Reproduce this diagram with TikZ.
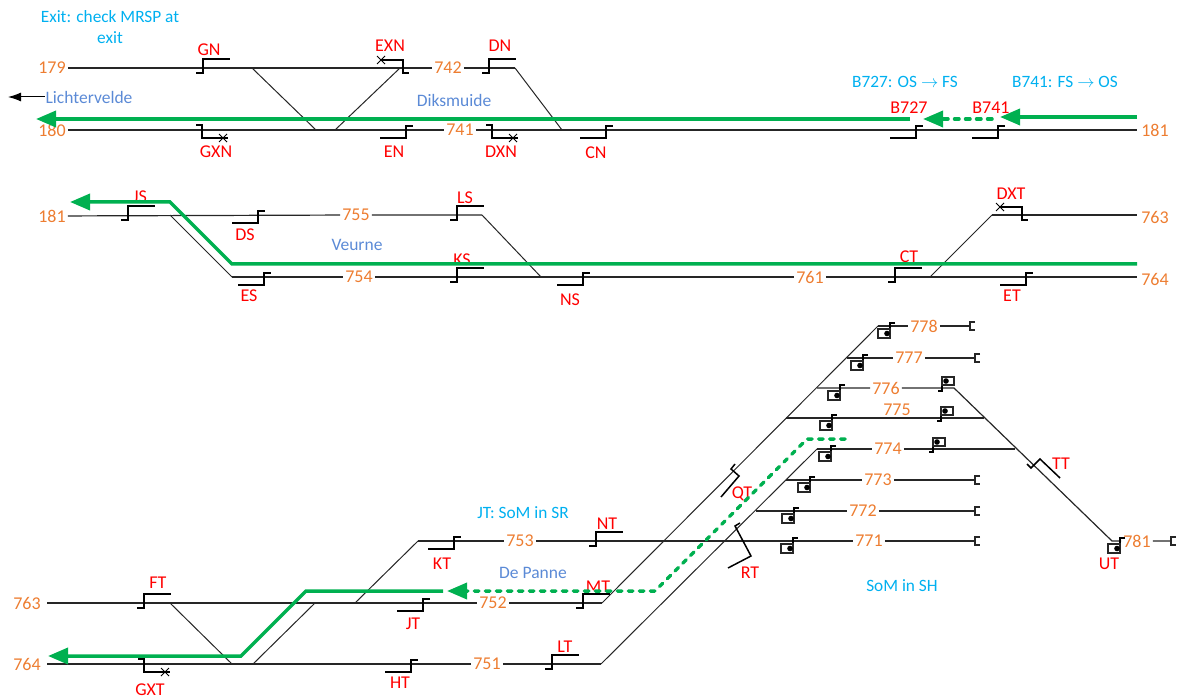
\documentclass[tikz,border=0pt]{standalone}
\usepackage{fontspec}
\setmainfont{Carlito}
\usetikzlibrary{arrows.meta}
\definecolor{routegreen}{HTML}{00B050}
\definecolor{signalred}{HTML}{FF0000}
\definecolor{trackorange}{HTML}{ED7D31}
\definecolor{placeblue}{HTML}{5B8AD6}
\definecolor{noteblue}{HTML}{00B0F0}
\tikzset{
  track/.style={line width=1.2pt,color=black!85},
  sigline/.style={line width=1.5pt,color=black},
  boxline/.style={line width=1.3pt,color=black!85},
  crossline/.style={line width=0.9pt,color=black},
  routearr/.style={-{Triangle[length=20pt,width=16pt]},line width=3.5pt,color=routegreen},
  routedots/.style={routearr,line cap=round,dash pattern=on 4.5pt off 6.5pt},
  siglabel/.style={font=\fontsize{18}{20}\selectfont,text=signalred,inner sep=0pt},
  tracklabel/.style={font=\fontsize{18}{20}\selectfont,text=trackorange,inner sep=2pt},
  placelabel/.style={font=\fontsize{17.5}{20}\selectfont,text=placeblue,inner sep=0.5pt},
  notelabel/.style={font=\fontsize{17.3}{21.5}\selectfont,text=noteblue,inner sep=0pt,align=center},
  % signal shapes, anchored on the track below the mast
  sigtop/.pic={\draw[sigline] (-7,5) -- (0,5) -- (0,-9) -- (27,-9);},
  siglow/.pic={\draw[sigline] (-26,8) -- (0,8) -- (0,-4) -- (7,-4);},
  sigexit/.pic={
    \draw[sigline] (-6,-5) -- (0,-5) -- (0,8) -- (26,8);
    \draw[crossline] (17,4) -- (25,12) (17,12) -- (25,4);
  },
  sigexitup/.pic={
    \draw[sigline] (-22,-8) -- (0,-8) -- (0,5) -- (6,5);
    \draw[crossline] (-26,-12) -- (-18,-4) (-26,-4) -- (-18,-12);
  },
  sigbox/.pic={
    \draw[sigline,line width=1.2pt] (5,-3) -- (0,-3) -- (0,12);
    \draw[boxline] (-12,3) rectangle (0,12);
    \fill (-3,7.5) circle (2.8);
  },
  sigboxup/.pic={
    \draw[sigline,line width=1.2pt] (-4,3) -- (0,3) -- (0,-11);
    \draw[boxline] (0,-11) rectangle (12,-3);
    \fill (4,-7) circle (2.8);
  },
  bufstop/.pic={\draw[boxline] (5,-4) -- (0,-4) -- (0,4) -- (5,4);}
}
\begin{document}
\begin{tikzpicture}[x=1pt,y=-1pt]
  \useasboundingbox (0,0) rectangle (1182,700);

  % signal names
  \foreach \lbl/\xpos/\ypos in {GN/209/50,EXN/390/46,DN/500/46,GXN/216/152,EN/394/152,DXN/501/152,
      CN/596/153,B727/909/108,B741/991/108,JS/140/197,DS/245/235,LS/465/198,KS/462/260,ES/249/296,
      NS/570/300,CT/909/257,DXT/1011/194,ET/1012/296,FT/158/583,GXT/150/690,HT/400/683,JT/413/624,
      KT/442/564,NT/607/524,MT/598/587,LT/565/647,QT/742/494,RT/750/573,TT/1061/464,UT/1109/564}
    \node[siglabel] (\lbl) at (\xpos,\ypos) {\lbl};

  % track numbers
  \foreach \nme/\xpos/\ypos/\txt in {a179/52/68/179,a742/448/68/742,a180/52/130/180,a741/460/130/741,
      b181/1155/130/181,c181/52/216/181,a755/356/215/755,a754/359/277/754,a761/810/277/761,
      b763/1155/217/763,b764/1155/279/764,c763/27/603/763,c764/27/664/764,a753/520/541/753,
      a752/493/603/752,a751/487/664/751,a778/924/326/778,a777/909/358/777,a776/886/388/776,
      a775/897/410/775,a774/888/449/774,a773/878/480/773,a772/863/511/772,a771/869/541/771,
      a781/1137/541/781}
    \node[tracklabel] (\nme) at (\xpos,\ypos) {\txt};

  \node[placelabel] (lichtervelde) at (89,97) {Lichtervelde};
  \node[placelabel] (diksmuide) at (454,100) {Diksmuide};
  \node[placelabel] (veurne) at (357,245) {Veurne};
  \node[placelabel] (depanne) at (533,573) {De Panne};
  \node[notelabel] (noteexit) at (110,27) {Exit: check MRSP at\\exit};
  \node[notelabel] (noteb727) at (905,82) {B727: OS $\rightarrow$ FS};
  \node[notelabel] (noteb741) at (1065,82) {B741: FS $\rightarrow$ OS};
  \node[notelabel] (notejt) at (523,513) {JT: SoM in SR};
  \node[notelabel] (notesh) at (902,586) {SoM in SH};

  % junction points
  \coordinate (j515) at (515,68);
  \coordinate (j482) at (482,215);
  \coordinate (j170) at (170,215);
  \coordinate (j232) at (232,277);
  \coordinate (j992) at (992,215);
  \coordinate (j930) at (930,277);
  \coordinate (j541) at (541,277);
  \coordinate (j418) at (418,541);
  \coordinate (j355) at (355,603);
  \coordinate (j602) at (602,603);
  \coordinate (j601) at (601,664);
  \coordinate (j878) at (878,326);
  \coordinate (j817) at (817,449);
  \coordinate (j954) at (954,388);
  \coordinate (j1112) at (1112,541);

  % main lines
  \draw[track] (a179) -- (a742) -- (j515);
  \draw[track] (a180) -- (a741) -- (1137,130);
  \draw[track] (c181) -- (a755) -- (j482);
  \draw[track] (j232) -- (a754) -- (a761) -- (1137,277);
  \draw[track] (j992) -- (1137,215);
  \draw[track] (47,603) -- (a752) -- (j602);
  \draw[track] (47,664) -- (a751) -- (j601);
  \draw[track] (j418) -- (a753) -- (a771) -- (975,541);
  \draw[track] (j878) -- (a778) -- (970,326);
  \draw[track] (847,358) -- (a777) -- (975,358);
  \draw[track] (817,388) -- (a776) -- (j954) -- (j1112) -- (a781) -- (1171,541);
  \draw[track] (786,418) -- (984,418);
  \draw[track] (j817) -- (a774) -- (1015,449);
  \draw[track] (786,480) -- (a773) -- (975,480);
  \draw[track] (756,511) -- (a772) -- (975,511);

  % crossovers
  \draw[track,line width=1pt] (252,68) -- (316,130);
  \draw[track,line width=1pt] (400,68) -- (335,130);
  \draw[track,line width=1pt] (j515) -- (562,130);
  \draw[track,line width=1pt] (j170) -- (j232);
  \draw[track,line width=1pt] (j482) -- (j541);
  \draw[track,line width=1pt] (j930) -- (j992);
  \draw[track,line width=1pt] (170,603) -- (232,664);
  \draw[track,line width=1pt] (253,664) -- (315,603);
  \draw[track,line width=1pt] (j355) -- (j418);
  \draw[track,line width=1pt] (j602) -- (j878);
  \draw[track,line width=1pt] (j601) -- (j817);

  % signals
  \foreach \xpos/\ypos in {203/68,489/68,128/215,457/215,457/277,895/277,144/603,596/541,583/603,552/664}
    \pic at (\xpos,\ypos) {sigtop};
  \foreach \xpos/\ypos in {406/130,606/130,916/130,998/130,258/215,264/277,583/277,1026/277,411/664,423/603,454/541}
    \pic at (\xpos,\ypos) {siglow};
  \foreach \xpos/\ypos in {202/130,492/130,144/664}
    \pic at (\xpos,\ypos) {sigexit};
  \foreach \xpos/\ypos in {403/68,1022/215}
    \pic at (\xpos,\ypos) {sigexitup};
  \foreach \xpos/\ypos in {890/326,863/358,840/388,832/418,831/449,810/480,794/511,793/541,1120/541}
    \pic at (\xpos,\ypos) {sigbox};
  \foreach \xpos/\ypos in {942/388,941/418,933/449}
    \pic at (\xpos,\ypos) {sigboxup};
  \foreach \xpos/\ypos in {970/326,975/358,975/480,975/511,975/541,1171/541}
    \pic at (\xpos,\ypos) {bufstop};

  % signals standing on the diagonals
  \draw[sigline] (735,464) -- (731,469) -- (739,476) -- (721,497);
  \draw[sigline] (740,523) -- (735,526) -- (751,556) -- (728,568);
  \draw[sigline] (1027,464) -- (1031,468) -- (1040,459) -- (1060,478);

  % arrow to the next station
  \coordinate (leftend) at (8,97);
  \draw[-{Latex[length=13pt,width=9pt]},line width=1pt] (lichtervelde) -- (leftend);

  % routes
  \coordinate (r1a) at (910,119);
  \coordinate (r1b) at (36,119);
  \coordinate (r2a) at (992,119);
  \coordinate (r2b) at (923,119);
  \coordinate (r3a) at (1137,117);
  \coordinate (r3b) at (1000,117);
  \draw[routearr] (r1a) -- (r1b);
  \draw[routedots] (r2a) -- (r2b);
  \draw[routearr] (r3a) -- (r3b);
  \draw[routearr] (1137,264) -- (232,264) -- (170,202) -- (70,202);
  \draw[routearr] (443,591) -- (306,591) -- (241,656) -- (48,656);
  \draw[routedots] (845,439) -- (807,439) -- (655,591) -- (447,591);
\end{tikzpicture}
\end{document}
